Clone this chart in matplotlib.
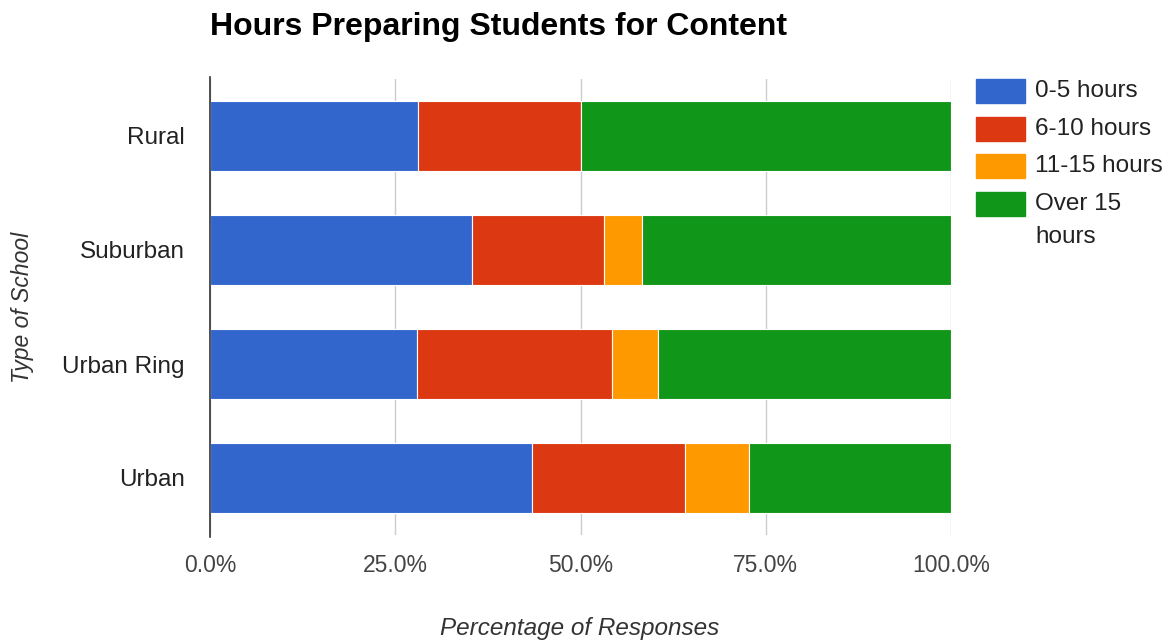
import matplotlib
matplotlib.use("Agg")
import matplotlib.pyplot as plt
from matplotlib.patches import Rectangle
from matplotlib.ticker import FuncFormatter

plt.rcParams['font.family'] = ['Liberation Sans', 'DejaVu Sans']

categories = ["Rural", "Suburban", "Urban Ring", "Urban"]
series_names = ["0-5 hours", "6-10 hours", "11-15 hours", "Over 15\nhours"]
values = {
    "0-5 hours":     [28.1, 35.4, 27.9, 43.5],
    "6-10 hours":    [21.9, 17.8, 26.4, 20.6],
    "11-15 hours":   [0.0, 5.1, 6.1, 8.6],
    "Over 15\nhours": [50.0, 41.7, 39.6, 27.3],
}
colors = ["#3366cc", "#dc3912", "#ff9900", "#109618"]
xticks = [0, 25, 50, 75, 100]

FS = 16.5
FL = 17.5
W, H = 1172, 641
fig = plt.figure(figsize=(W / 100, H / 100), dpi=100)
ax = fig.add_axes([210 / W, 1 - 535 / H, 741 / W, 456 / H])

y = list(range(len(categories)))
left = [0.0] * len(categories)
for name, col in zip(series_names, colors):
    vals = values[name]
    ax.barh(y, vals, left=left, height=0.614, color=col,
            edgecolor="white", linewidth=0.8, zorder=3)
    left = [l + v for l, v in zip(left, vals)]

ax.set_xlim(0, 100)
ax.set_ylim(len(categories) - 0.5, -0.5)
ax.set_yticks(y)
ax.set_yticklabels(categories, fontsize=FL, color="#222222")
ax.set_xticks(xticks)
ax.xaxis.set_major_formatter(FuncFormatter(lambda v, p: f"{v:.1f}%"))
ax.tick_params(axis="x", labelsize=FS, colors="#444444", length=0, pad=14)
ax.tick_params(axis="y", length=0, pad=18)
ax.grid(axis="x", color="#cccccc", linewidth=1, zorder=0)
for s in ["top", "right", "bottom"]:
    ax.spines[s].set_visible(False)
ax.spines["left"].set_color("#333333")
ax.spines["left"].set_linewidth(1.2)
ax.spines["left"].set_zorder(4)
ax.spines["left"].set_bounds(-0.5 - 0.02, len(categories) - 0.5 + 0.02)

fig.text(210 / W, 1 - 27 / H, "Hours Preparing Students for Content",
         fontsize=23, fontweight="bold", color="#000000", va="center", ha="left")
fig.text(580 / W, 1 - 628 / H, "Percentage of Responses", fontsize=FL,
         style="italic", color="#333333", ha="center", va="center")
fig.text(22 / W, 1 - 307 / H, "Type of School", fontsize=FS, style="italic",
         color="#333333", ha="center", va="center", rotation=90)

# legend
leg_y = [91, 129, 166, 204]
for name, col, yy in zip(series_names, colors, leg_y):
    fig.patches.append(Rectangle((976 / W, 1 - (yy + 12) / H), 49 / W, 24 / H,
                                 transform=fig.transFigure, color=col))
    for i, line in enumerate(name.split("\n")):
        fig.text(1035 / W, 1 - (yy + i * 33) / H, line, fontsize=FL,
                 color="#222222", ha="left", va="center")

fig.savefig("out.png", dpi=100, facecolor="white")
